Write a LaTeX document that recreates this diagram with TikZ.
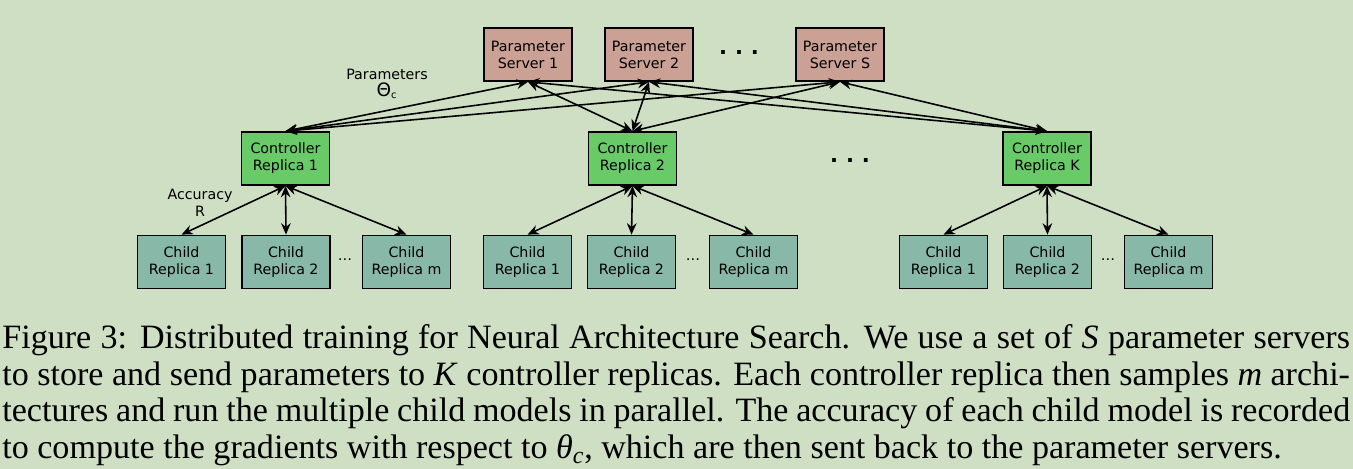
\documentclass[tikz,border=0pt]{standalone}
\usepackage{fontspec}
\setmainfont{Liberation Serif}
\newfontfamily\diafont{DejaVu Sans}
\usetikzlibrary{arrows.meta}
\definecolor{bgcol}{RGB}{207,223,196}
\definecolor{servercol}{RGB}{203,161,149}
\definecolor{ctrlcol}{RGB}{104,203,104}
\definecolor{childcol}{RGB}{136,185,168}
\begin{document}
\begin{tikzpicture}[x=0.02cm, y=0.02cm,
    box/.style={draw, line width=1pt, minimum width=1.76cm, minimum height=1.06cm, align=center, inner sep=0pt, font=\diafont\fontsize{8.1}{9.7}\selectfont},
    server/.style={box, fill=servercol},
    ctrl/.style={box, fill=ctrlcol},
    child/.style={box, fill=childcol},
    link/.style={{Stealth[length=6.5pt,width=5.5pt]}-{Stealth[length=6.5pt,width=5.5pt]}, line width=0.9pt},
    lbl/.style={align=center, font=\diafont\fontsize{8.1}{9.7}\selectfont},
    bigdots/.style={font=\diafont\bfseries\fontsize{12}{12}\selectfont}]
    \fill[bgcol] (0,0) rectangle (1353,469);
    \useasboundingbox (0,0) rectangle (1353,469);
    \node[server] (ps1) at (528,414.5) {Parameter\\Server 1};
    \node[server] (ps2) at (649,414.5) {Parameter\\Server 2};
    \node[server] (psS) at (840,414.5) {Parameter\\Server S};
    \node[bigdots] (psdots) at (739,416) {.\hspace{4.5pt}.\hspace{4.5pt}.};
    \node[ctrl] (cr1) at (285.5,310.5) {Controller\\Replica 1};
    \node[ctrl] (cr2) at (632.5,310.5) {Controller\\Replica 2};
    \node[ctrl] (crK) at (1047,310.5) {Controller\\Replica K};
    \node[bigdots] (crdots) at (850,308) {.\hspace{4.5pt}.\hspace{4.5pt}.};
    \node[child] (cr1c1) at (181.5,207) {Child\\Replica 1};
    \node[child] (cr1c2) at (286,207) {Child\\Replica 2};
    \node[child] (cr1cm) at (406.5,207) {Child\\Replica m};
    \node[lbl] (cr1dots) at (345,209) {\dots};
    \node[child] (cr2c1) at (527.5,207) {Child\\Replica 1};
    \node[child] (cr2c2) at (631.5,207) {Child\\Replica 2};
    \node[child] (cr2cm) at (753.5,207) {Child\\Replica m};
    \node[lbl] (cr2dots) at (693,209) {\dots};
    \node[child] (crKc1) at (943.5,207) {Child\\Replica 1};
    \node[child] (crKc2) at (1047.5,207) {Child\\Replica 2};
    \node[child] (crKcm) at (1168.5,207) {Child\\Replica m};
    \node[lbl] (crKdots) at (1108,209) {\dots};
    \node[lbl] (params) at (387,385) {Parameters\\{\fontsize{10.5}{10}\selectfont Θ}\textsubscript{c}};
    \node[lbl] (acc) at (200,266) {Accuracy\\R};
    \foreach \s in {ps1,ps2,psS}
      \foreach \c in {cr1,cr2,crK}
        \draw[link] (\s.south) -- (\c.north);
    \foreach \c in {cr1,cr2,crK}
      \foreach \k in {c1,c2,cm}
        \draw[link] (\c.south) -- (\c\k.north);
    \node[anchor=north west, inner sep=0pt, text width=26.96cm, align=justify,
      font=\fontsize{19.4}{20.9}\selectfont] (caption) at (2,145)
      {\hyphenpenalty=10000 Figure 3: Distributed training for Neural Architecture Search. We use a set of \textit{S} parameter servers\linebreak
      to store and send parameters to \textit{K} controller replicas. Each controller replica then samples \textit{m} archi-\linebreak
      tectures and run the multiple child models in parallel. The accuracy of each child model is recorded\linebreak
      to compute the gradients with respect to \textit{θ}\textsubscript{\textit{c}}, which are then sent back to the parameter servers.};
\end{tikzpicture}
\end{document}
